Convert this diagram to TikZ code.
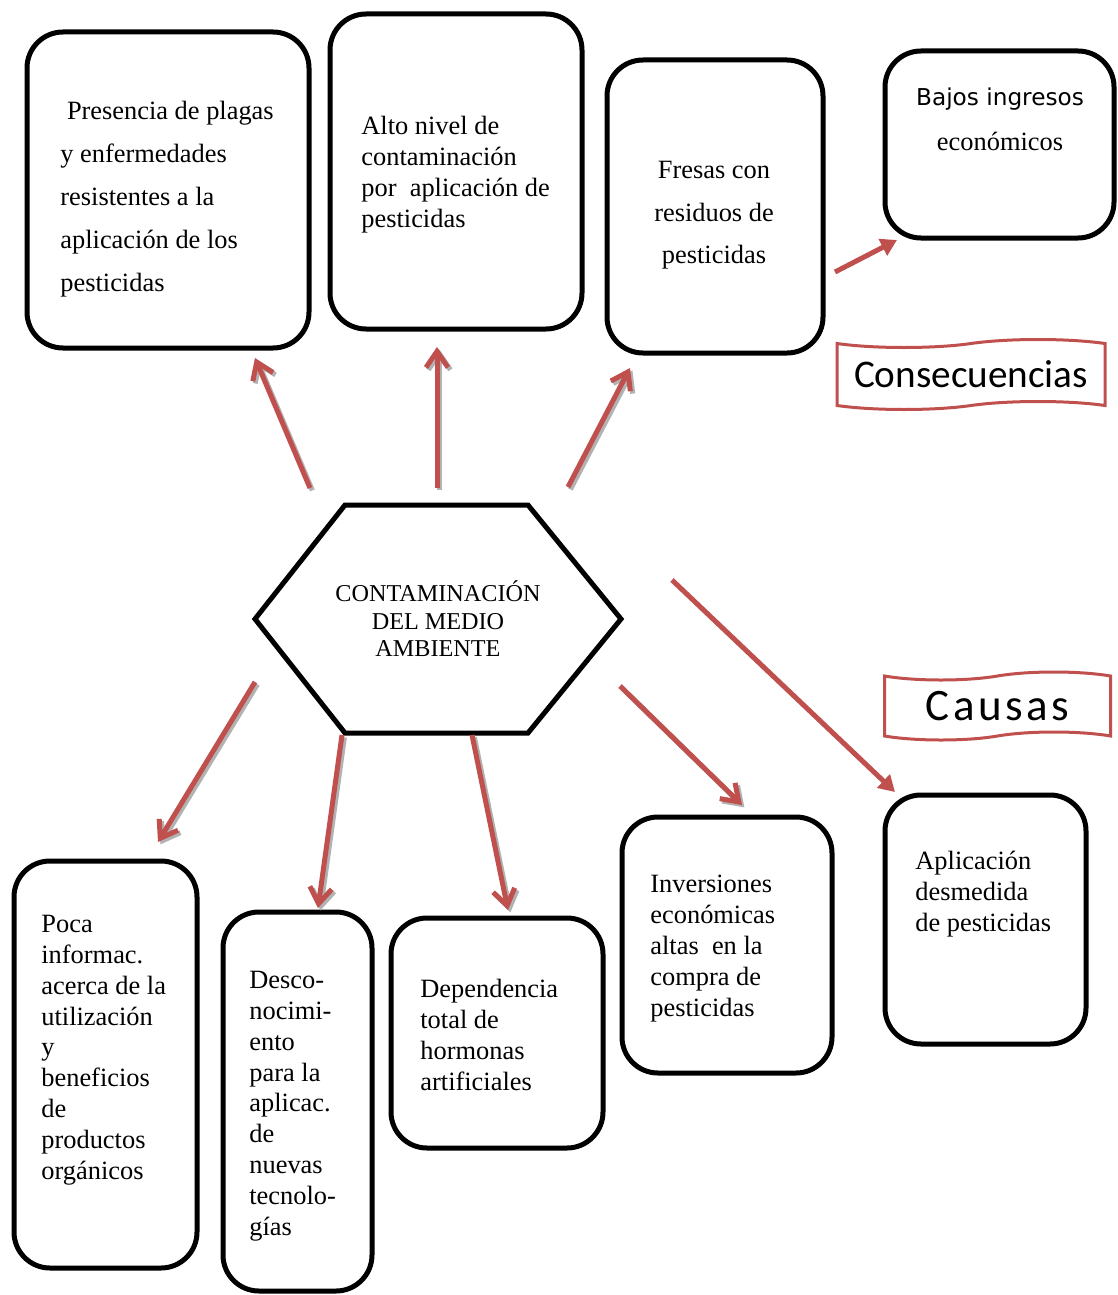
\documentclass[tikz,border=0pt]{standalone}
\usepackage{fontspec}
\setmainfont{Liberation Serif}
\setsansfont{DejaVu Sans}
\newfontfamily\cintafont{Carlito}
\newfontfamily\causafont[LetterSpace=8]{Carlito}
\usetikzlibrary{arrows.meta,shapes.symbols}
\definecolor{rojo}{RGB}{192,80,77}

\begin{document}
\begin{tikzpicture}[x=0.5pt,y=-0.5pt,
  caja/.style={draw,line width=2.5pt,rounded corners=18pt,outer sep=0pt},
  texto/.style={anchor=north west,inner sep=0pt,align=left,
    font=\fontsize{13.2}{15.4}\selectfont},
  cinta/.style={tape,draw=rojo,line width=1.5pt,tape bend height=4pt,inner sep=0pt},
  flecha/.style={draw=rojo,line width=2.5pt,-{Straight Barb[length=8pt,width=11pt]}},
  sombra/.style={flecha,draw=gray!60,transform canvas={shift={(1.2pt,-1.2pt)}}},
  flechab/.style={draw=rojo,line width=2.5pt,-{Triangle[length=8pt,width=9pt]}}]

\useasboundingbox (0,0) rectangle (1118,1295);

% consecuencias
\node[caja,minimum width=141pt,minimum height=158pt] (pres) at (168,190) {};
\node[caja,minimum width=126pt,minimum height=157.5pt] (alto) at (456,171.5) {};
\node[caja,minimum width=108pt,minimum height=146.5pt] (fresas) at (715,206.5) {};
\node[caja,minimum width=114.5pt,minimum height=93.5pt] (bajos) at (999.5,144.5) {};

\node[texto,font=\fontsize{13.2}{21.5}\selectfont] (pres-t) at (60,101)
  {\ Presencia de plagas\\y enfermedades\\resistentes a la\\aplicación de los\\pesticidas};
\node[texto,font=\fontsize{13.2}{15.5}\selectfont] (alto-t) at (361,116)
  {Alto nivel de\\contaminación\\por\ \ aplicación de\\pesticidas};
\node[texto,anchor=north,align=center,font=\fontsize{13.2}{21.25}\selectfont] (fresas-t) at (714,161)
  {Fresas con\\residuos de\\pesticidas};
\node[anchor=base,inner sep=0pt,font=\sffamily\fontsize{11.6}{13}\selectfont] (bajos-t1) at (1000,105) {Bajos ingresos};
\node[anchor=base,inner sep=0pt,font=\fontsize{13.2}{15}\selectfont] (bajos-t2) at (1000,150) {económicos};

\node[cinta,minimum width=134pt,minimum height=35pt] (conse) at (971,374.5)
  {\cintafont\fontsize{19.6}{21}\selectfont Consecuencias};

% problema central
\node[inner sep=0pt,outer sep=0pt,align=center,minimum width=183pt,minimum height=114pt,
  font=\fontsize{12.1}{13.75}\selectfont] (hex) at (438,619) {CONTAMINACIÓN\\DEL MEDIO\\AMBIENTE};
\draw[line width=2.5pt] (hex.west) -- ([shift={(-93,0)}]hex.north) -- ([shift={(90,0)}]hex.north)
  -- (hex.east) -- ([shift={(90,0)}]hex.south) -- ([shift={(-93,0)}]hex.south) -- cycle;

% causas
\node[cinta,minimum width=113pt,minimum height=34pt] (causas) at (997.5,706)
  {\causafont\fontsize{22.5}{24}\selectfont Causas};

\node[caja,minimum width=91.5pt,minimum height=203.5pt] (poca) at (105.5,1064.5) {};
\node[caja,minimum width=74.5pt,minimum height=189.5pt] (desco) at (297.5,1101.5) {};
\node[caja,minimum width=106pt,minimum height=115pt] (dep) at (497,1033) {};
\node[caja,minimum width=105pt,minimum height=128pt] (inv) at (727,945) {};
\node[caja,minimum width=100.5pt,minimum height=124.5pt] (aplic) at (985.5,919.5) {};

\node[texto] (poca-t) at (41,915)
  {Poca\\informac.\\acerca de la\\utilización\\y\\beneficios\\de\\productos\\orgánicos};
\node[texto] (desco-t) at (249,971)
  {Desco-\\nocimi-\\ento\\para la\\aplicac.\\de\\nuevas\\tecnolo-\\gías};
\node[texto] (dep-t) at (420,979) {Dependencia\\total de\\hormonas\\artificiales};
\node[texto] (inv-t) at (650,875)
  {Inversiones\\económicas\\altas\ \ en la\\compra de\\pesticidas};
\node[texto] (aplic-t) at (915,851) {Aplicación\\desmedida\\de pesticidas};

% extremos de las flechas
\coordinate (s1) at ([shift={(-128,-17)}]hex.north);
\coordinate (e1) at ([shift={(87,10)}]pres.south);
\coordinate (s2) at ([shift={(-1,-17)}]hex.north);
\coordinate (e2) at ([shift={(-19,18)}]alto.south);
\coordinate (s3) at ([shift={(130,-18)}]hex.north);
\coordinate (e3) at ([shift={(-85,15)}]fresas.south);
\coordinate (s4) at ([shift={(-1,67)}]hex.east);
\coordinate (e4) at ([shift={(15,-12)}]inv.north);
\coordinate (s5) at ([shift={(0,63)}]hex.west);
\coordinate (e5) at ([shift={(52.5,-19)}]poca.north);
\coordinate (s6) at ([shift={(-96,2)}]hex.south);
\coordinate (e6) at ([shift={(20.5,-4)}]desco.north);
\coordinate (s7) at ([shift={(34,2)}]hex.south);
\coordinate (e7) at ([shift={(11,-8)}]dep.north);

% flechas
\foreach \i in {1,...,7}{
  \draw[sombra] (s\i) -- (e\i);
  \draw[flecha] (s\i) -- (e\i);
}
\draw[flechab] ([shift={(12,65.5)}]fresas.east) -- ([shift={(12,2)}]bajos.south west);
\draw[flechab] ([shift={(51,-39)}]hex.east) -- ([shift={(10,-3)}]aplic.north west);

\end{tikzpicture}
\end{document}
